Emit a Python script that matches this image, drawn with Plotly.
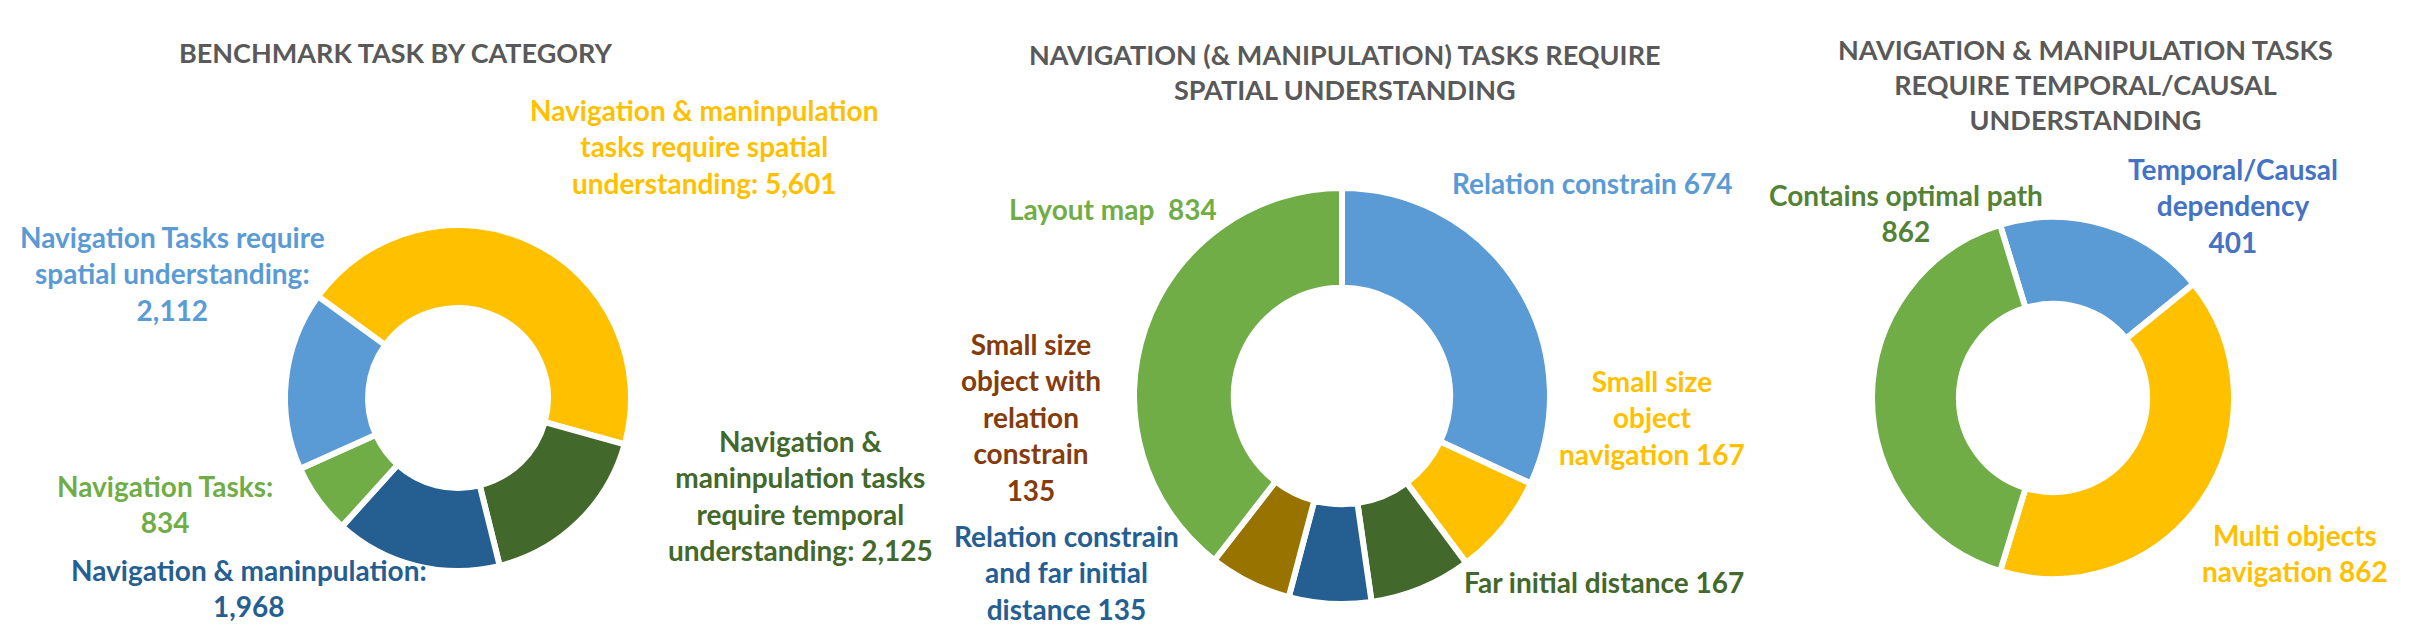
import plotly.graph_objects as go

W, H = 2416, 642

# ---- data ----
c1_labels = ["Navigation & maninpulation tasks require spatial understanding",
             "Navigation & maninpulation tasks require temporal understanding",
             "Navigation & maninpulation",
             "Navigation Tasks",
             "Navigation Tasks require spatial understanding"]
c1_values = [5601, 2125, 1968, 834, 2112]
c1_colors = ["#FFC000", "#43682B", "#255E91", "#70AD47", "#5B9BD5"]

c2_labels = ["Relation constrain", "Small size object navigation", "Far initial distance",
             "Relation constrain and far initial distance",
             "Small size object with relation constrain", "Layout map"]
c2_values = [674, 167, 167, 135, 135, 834]
c2_colors = ["#5B9BD5", "#FFC000", "#43682B", "#255E91", "#997300", "#70AD47"]

c3_labels = ["Temporal/Causal dependency", "Multi objects navigation", "Contains optimal path"]
c3_values = [401, 862, 862]
c3_colors = ["#5B9BD5", "#FFC000", "#70AD47"]

titles = ["BENCHMARK TASK BY CATEGORY",
          "NAVIGATION (& MANIPULATION) TASKS REQUIRE<br>SPATIAL UNDERSTANDING",
          "NAVIGATION & MANIPULATION TASKS<br>REQUIRE TEMPORAL/CAUSAL<br>UNDERSTANDING"]

FONT = "Lato"


def dom(cx, cy, r):
    return dict(x=[(cx - r) / W, (cx + r) / W],
                y=[(H - cy - r) / H, (H - cy + r) / H])


fig = go.Figure()
for labels, values, colors, (cx, cy, r), rot in [
    (c1_labels, c1_values, c1_colors, (450, 390, 173), -54),
    (c2_labels, c2_values, c2_colors, (1334, 388, 208), 0),
    (c3_labels, c3_values, c3_colors, (2045, 390, 181), -17),
]:
    fig.add_trace(go.Pie(
        labels=labels, values=values, hole=0.52, sort=False,
        direction="clockwise", rotation=rot,
        marker=dict(colors=colors, line=dict(color="white", width=6)),
        textinfo="none", hoverinfo="label+value",
        domain=dom(cx, cy, r), showlegend=False,
    ))

DY = 8


def ann(text, x, y, color, size=28):
    fig.add_annotation(text=text, x=x / W, y=1 - (y - DY) / H, xref="paper", yref="paper",
                       xanchor="center", yanchor="middle", align="center",
                       showarrow=False,
                       font=dict(family=FONT, size=size, color=color, weight="bold"))


TC = "#595959"
ann(titles[0], 388, 53, TC, 27)
ann(titles[1], 1337, 72, TC, 27)
ann(titles[2], 2077, 84, TC, 27)

# chart 1 labels
ann("Navigation & maninpulation<br>tasks require spatial<br>understanding: " + f"{c1_values[0]:,}", 696, 147, "#FFC000")
ann("Navigation Tasks require<br>spatial understanding:<br>" + f"{c1_values[4]:,}", 164, 274, "#5B9BD5")
ann("Navigation Tasks:<br>" + f"{c1_values[3]:,}", 157, 504, "#70AD47")
ann("Navigation & maninpulation:<br>" + f"{c1_values[2]:,}", 241, 588, "#255E91")
ann("Navigation &<br>maninpulation tasks<br>require temporal<br>understanding: " + f"{c1_values[1]:,}", 792, 495, "#43682B")

# chart 2 labels
ann("Layout map  " + str(c2_values[5]), 1105, 209, "#70AD47")
ann("Relation constrain " + str(c2_values[0]), 1584, 183, "#5B9BD5")
ann("Small size<br>object with<br>relation<br>constrain<br>" + str(c2_values[4]), 1023, 417, "#843C0C")
ann("Relation constrain<br>and far initial<br>distance " + str(c2_values[3]), 1058, 572, "#255E91")
ann("Small size<br>object<br>navigation " + str(c2_values[1]), 1644, 417, "#FFC000")
ann("Far initial distance " + str(c2_values[2]), 1596, 582, "#43682B")

# chart 3 labels
ann("Contains optimal path<br>" + str(c3_values[2]), 1898, 213, "#548235")
ann("Temporal/Causal<br>dependency<br>" + str(c3_values[0]), 2225, 205, "#4472C4")
ann("Multi objects<br>navigation " + str(c3_values[1]), 2287, 553, "#FFC000")

fig.update_layout(width=W, height=H, margin=dict(l=0, r=0, t=0, b=0),
                  paper_bgcolor="white", plot_bgcolor="white")
fig.write_html("out.html")
